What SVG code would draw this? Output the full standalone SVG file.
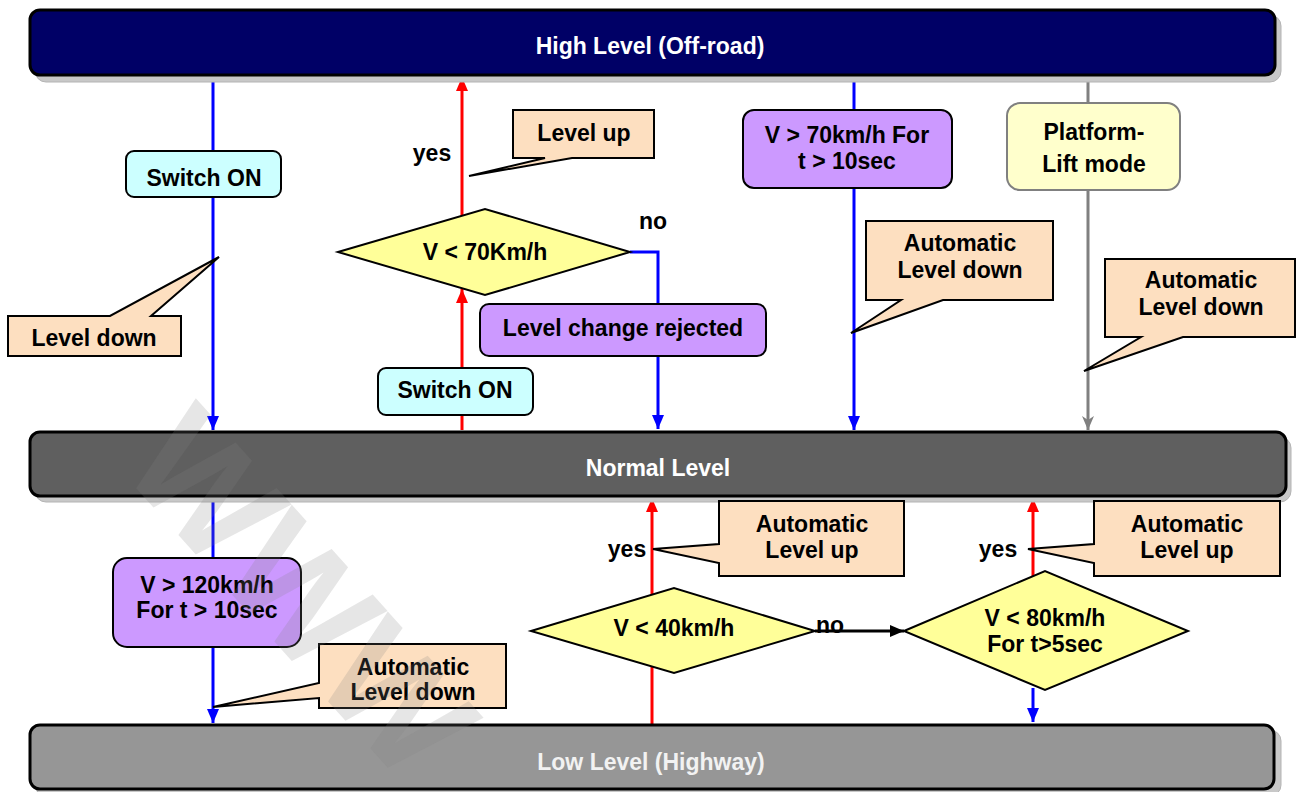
<svg xmlns="http://www.w3.org/2000/svg" width="1297" height="792" viewBox="0 0 1297 792">
<style>
text{font-family:"Liberation Sans",Arial,sans-serif;font-weight:bold;font-size:23px;text-anchor:middle;fill:#000}
.bar{stroke:#000;stroke-width:3}
.shadow{fill:#c8c8c8;stroke:#b4b4b4;stroke-width:1}
.bartxt{fill:#fff}
.box{stroke:#000;stroke-width:2}
.purple{fill:#cc99ff}
.cyan{fill:#ccffff}
.callout{fill:#fddfc0;stroke:#000;stroke-width:2;stroke-linejoin:miter}
.dia{fill:#ffff99;stroke:#000;stroke-width:2}
.ln{fill:none;stroke-width:3}
.blue{stroke:#0000ff}
.red{stroke:#ff0000}
.gray{stroke:#808080}
.black{stroke:#000}
</style>
<defs>
<marker id="ab" viewBox="0 0 14 12" refX="14" refY="6" markerWidth="14" markerHeight="12" orient="auto" markerUnits="userSpaceOnUse"><path d="M0,0 L14,6 L0,12 z" fill="#0000ff"/></marker>
<marker id="ar" viewBox="0 0 14 12" refX="14" refY="6" markerWidth="14" markerHeight="12" orient="auto" markerUnits="userSpaceOnUse"><path d="M0,0 L14,6 L0,12 z" fill="#ff0000"/></marker>
<marker id="ag" viewBox="0 0 14 12" refX="14" refY="6" markerWidth="14" markerHeight="12" orient="auto" markerUnits="userSpaceOnUse"><path d="M0,0 L14,6 L0,12 L4,6 z" fill="#808080"/></marker>
<marker id="ak" viewBox="0 0 14 12" refX="14" refY="6" markerWidth="14" markerHeight="12" orient="auto" markerUnits="userSpaceOnUse"><path d="M0,0 L14,6 L0,12 z" fill="#000"/></marker>
</defs>

<g id="connectors">
<path class="ln blue" d="M213,77 V430" marker-end="url(#ab)"/>
<path class="ln red" d="M462,430 V289" marker-end="url(#ar)"/>
<path class="ln red" d="M462,216 V77" marker-end="url(#ar)"/>
<path class="ln blue" d="M630,252 H658 V429" marker-end="url(#ab)"/>
<path class="ln blue" d="M854,77 V430" marker-end="url(#ab)"/>
<path class="ln gray" d="M1088,77 V430" marker-end="url(#ag)"/>
<path class="ln blue" d="M213,497 V723" marker-end="url(#ab)"/>
<path class="ln red" d="M652,724 V498" marker-end="url(#ar)"/>
<path class="ln black" d="M815,631 H904" marker-end="url(#ak)"/>
<path class="ln red" d="M1033,577 V498" marker-end="url(#ar)"/>
<path class="ln blue" d="M1033,688 V722" marker-end="url(#ab)"/>
</g>

<g id="high-level">
<rect class="shadow" x="35" y="15" width="1246" height="67" rx="11"/>
<rect class="bar" x="30" y="10" width="1245" height="65" rx="10" fill="#000066"/>
<text class="bartxt" x="650" y="54">High Level (Off-road)</text>
</g>

<g id="normal-level">
<rect class="shadow" x="35" y="437" width="1256" height="65" rx="11"/>
<rect class="bar" x="30" y="432" width="1256" height="64" rx="10" fill="#5f5f5f"/>
<text class="bartxt" x="658" y="476">Normal Level</text>
</g>

<g id="low-level">
<rect class="shadow" x="35" y="730" width="1246" height="66" rx="11"/>
<rect class="bar" x="30" y="725" width="1244" height="64" rx="10" fill="#969696"/>
<text x="651" y="770" style="fill:#f2f2f2">Low Level (Highway)</text>
</g>

<g id="switch-on-1">
<rect class="box cyan" x="126" y="151" width="155" height="46" rx="8"/>
<text x="204" y="186">Switch ON</text>
</g>

<g id="callout-level-down">
<path class="callout" d="M8,316 H110 L219,257 L151,316 H181 V356 H8 Z"/>
<text x="94" y="346">Level down</text>
</g>

<g id="label-yes-top">
<text x="432" y="161">yes</text>
</g>

<g id="callout-level-up">
<path class="callout" d="M513,110 H654 V158 H572 L469,176 L545,158 H513 Z"/>
<text x="584" y="141">Level up</text>
</g>

<g id="diamond-70">
<polygon class="dia" points="338,252 485,209 630,252 485,295"/>
<text x="485" y="260">V &lt; 70Km/h</text>
</g>

<g id="label-no-top">
<text x="653" y="229">no</text>
</g>

<g id="level-change-rejected">
<rect class="box purple" x="480" y="304" width="286" height="52" rx="9"/>
<text x="623" y="336">Level change rejected</text>
</g>

<g id="switch-on-2">
<rect class="box cyan" x="378" y="368" width="155" height="47" rx="8"/>
<text x="455" y="398">Switch ON</text>
</g>

<g id="v70-box">
<rect class="box purple" x="743" y="110" width="209" height="78" rx="11"/>
<text x="847" y="143">V &gt; 70km/h For</text>
<text x="847" y="169">t &gt; 10sec</text>
</g>

<g id="callout-auto-down-1">
<path class="callout" d="M866,221 H1053 V300 H943 L851,333 L901,300 H866 Z"/>
<text x="960" y="251">Automatic</text>
<text x="960" y="278">Level down</text>
</g>

<g id="platform-lift">
<rect x="1007" y="103" width="173" height="87" rx="13" fill="#ffffcc" stroke="#808080" stroke-width="2"/>
<text x="1094" y="140">Platform-</text>
<text x="1094" y="172">Lift mode</text>
</g>

<g id="callout-auto-down-2">
<path class="callout" d="M1105,259 H1295 V337 H1183 L1084,371 L1141,337 H1105 Z"/>
<text x="1201" y="288">Automatic</text>
<text x="1201" y="315">Level down</text>
</g>

<g id="v120-box">
<rect class="box purple" x="113" y="558" width="188" height="89" rx="14"/>
<text x="207" y="593">V &gt; 120km/h</text>
<text x="207" y="618">For t &gt; 10sec</text>
</g>

<g id="callout-auto-down-3">
<path class="callout" d="M319,644 H506 V708 H319 V698 L213,707 L319,683 Z"/>
<text x="413" y="675">Automatic</text>
<text x="413" y="700">Level down</text>
</g>

<g id="label-yes-1">
<text x="627" y="557">yes</text>
</g>

<g id="callout-auto-up-1">
<path class="callout" d="M719,501 H904 V576 H719 V563 L653,549 L719,544 Z"/>
<text x="812" y="532">Automatic</text>
<text x="812" y="558">Level up</text>
</g>

<g id="diamond-40">
<polygon class="dia" points="531,631 674,588 815,631 674,673"/>
<text x="674" y="636">V &lt; 40km/h</text>
</g>

<g id="label-no-bottom">
<text x="830" y="633">no</text>
</g>

<g id="diamond-80">
<polygon class="dia" points="904,631 1045,571 1188,631 1045,690"/>
<text x="1045" y="626">V &lt; 80km/h</text>
<text x="1045" y="652">For t&gt;5sec</text>
</g>

<g id="label-yes-2">
<text x="998" y="557">yes</text>
</g>

<g id="callout-auto-up-2">
<path class="callout" d="M1094,501 H1280 V576 H1094 V563 L1028,549 L1094,544 Z"/>
<text x="1187" y="532">Automatic</text>
<text x="1187" y="558">Level up</text>
</g>

<g id="watermark">
<text x="0" y="0" transform="translate(118,468) rotate(48)" style="font-size:152px;fill:#808080;fill-opacity:0.2;text-anchor:start">WWW</text>
</g>
</svg>
